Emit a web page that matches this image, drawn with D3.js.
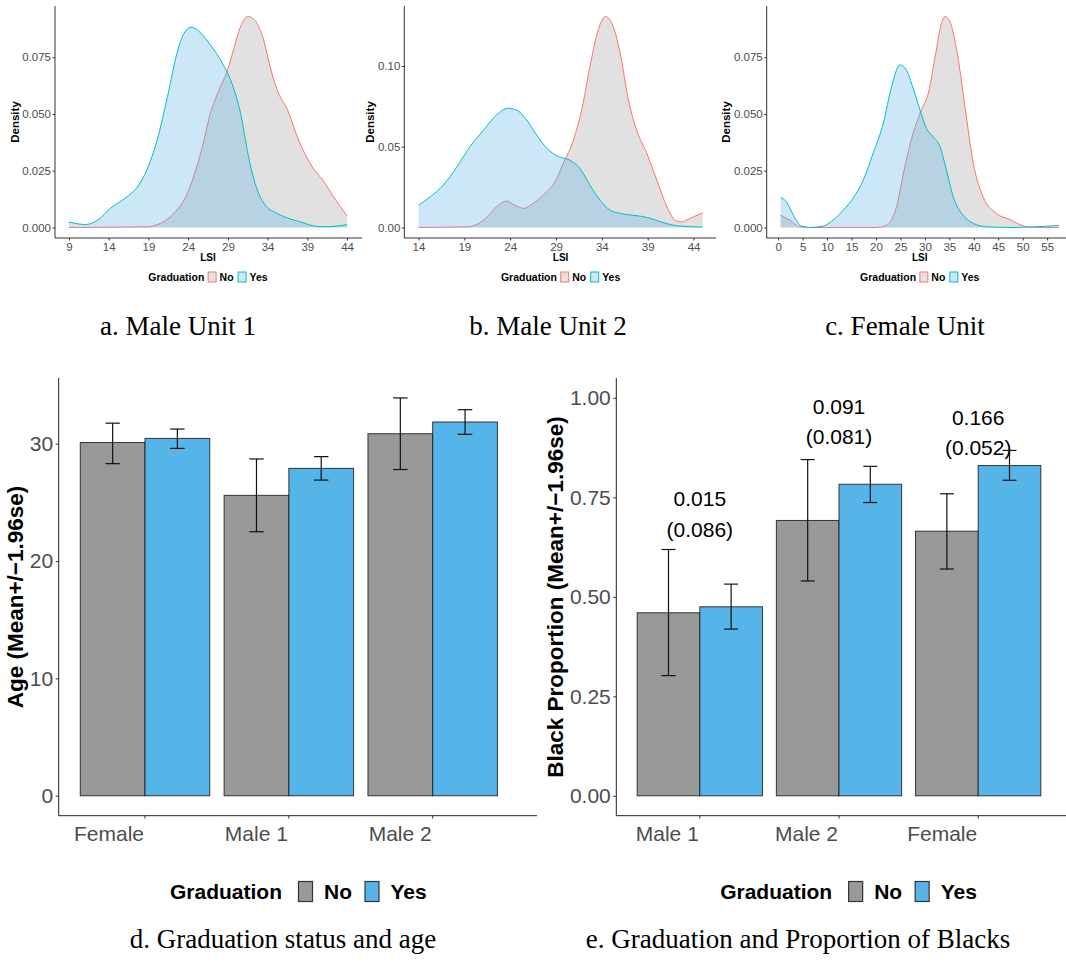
<!DOCTYPE html>
<html>
<head>
<meta charset="utf-8">
<script src="https://cdn.jsdelivr.net/npm/d3@7"></script>
<style>
  body { margin: 0; background: #fff; }
  text { font-family: "Liberation Sans", Arial, sans-serif; }
  .caption { font-family: "Liberation Serif", "Times New Roman", serif; font-size: 27px; fill: #000; }
</style>
</head>
<body>
<svg id="chart" width="1066" height="966"></svg>
<script>
// ---- density data: [LSI, density]
const unit1No = [[9,0],[18.8,0.0003],[20.5,0.0018],[22.2,0.0062],[23.7,0.0135],[24.7,0.0224],[25.8,0.0356],
  [26.8,0.0503],[27.9,0.0606],[28.9,0.0687],[29.7,0.0782],[30.6,0.0885],[31.5,0.0929],[32.4,0.0912],
  [33.5,0.0826],[34.3,0.0709],[35.2,0.0606],[36.5,0.0518],[37.9,0.0385],[39.6,0.0268],[41.1,0.0201],
  [42.3,0.0135],[44,0.0051]];
const unit1Yes = [[9,0.0024],[11.1,0.0013],[12.6,0.0032],[14.2,0.0084],[16.3,0.0135],[17.8,0.0187],
  [18.8,0.0253],[20.1,0.0385],[21.4,0.0576],[22.6,0.0768],[23.5,0.0856],[24.4,0.0882],[25.6,0.0856],
  [26.8,0.0804],[28.3,0.0724],[29.5,0.0635],[30.6,0.0503],[31.6,0.0312],[32.7,0.0165],[33.7,0.0099],
  [35.2,0.0062],[36.9,0.0037],[38.1,0.0025],[39.8,0.0007],[41.3,0.0003],[44,0.0012]];

const unit2No = [[14,0],[19.3,0.0004],[20.4,0.002],[21.5,0.0066],[22.5,0.0128],[23.6,0.0163],[24.5,0.0138],
  [25.5,0.0118],[26.5,0.0149],[27.8,0.0211],[28.9,0.0283],[29.8,0.0397],[30.9,0.0541],[31.8,0.0727],
  [32.7,0.0996],[33.6,0.1223],[34.4,0.1306],[35.1,0.1264],[36,0.1079],[36.9,0.0789],[37.8,0.0603],
  [38.9,0.0459],[40,0.0293],[41.1,0.0128],[42,0.0045],[42.7,0.0035],[43.6,0.0056],[45,0.0091]];
const unit2Yes = [[14,0.0138],[15.3,0.019],[16.7,0.0262],[18.2,0.0376],[19.6,0.05],[21.1,0.0603],
  [22.5,0.0696],[23.8,0.0738],[24.7,0.0727],[25.8,0.0665],[26.9,0.0572],[28,0.049],[29.3,0.0438],
  [30.5,0.0417],[31.6,0.0366],[32.7,0.0262],[33.8,0.0169],[34.9,0.0107],[36.4,0.0083],[38.2,0.007],
  [39.3,0.0056],[40.4,0.0035],[41.8,0.0014],[44,0.0004],[45,0.0002]];

const femaleNo = [[0.5,0.0054],[2.4,0.0032],[4.4,0.0003],[6.5,0],[20,0],[22.2,0.001],[24.2,0.0091],
  [25.9,0.0268],[27.6,0.0415],[29.3,0.0518],[30.7,0.0591],[32.1,0.0753],[33.4,0.09],[34.1,0.0929],
  [35.1,0.0907],[36.5,0.0782],[38.2,0.0532],[39.9,0.0282],[41.9,0.0135],[44.6,0.0062],[47.4,0.0035],
  [50.1,0.0007],[52,0],[57.4,0]];
const femaleYes = [[0.5,0.0131],[1.7,0.0113],[3.1,0.0054],[4.8,0.0006],[6.5,0],[9.2,0.0006],[11.2,0.0032],
  [13.3,0.0076],[15.3,0.0128],[17.4,0.0209],[19.4,0.0326],[21.5,0.0459],[23.2,0.0621],[24.9,0.0716],
  [26.2,0.0694],[27.6,0.0613],[29,0.0518],[30.3,0.0437],[31.7,0.04],[33.1,0.0356],[34.4,0.0253],
  [35.8,0.0135],[37.8,0.0054],[39.9,0.0018],[42.6,0.0003],[47.4,0],[57.4,0.0009]];

const lsiTicksUnit1 = [9, 14, 19, 24, 29, 34, 39, 44];
const lsiTicksUnit2 = [14, 19, 24, 29, 34, 39, 44];
const lsiTicksFemale = [0, 5, 10, 15, 20, 25, 30, 35, 40, 45, 50, 55];
const densityTicksA = [0, 0.025, 0.05, 0.075];
const densityTicksB = [0, 0.05, 0.10];

// ---- bar data
const ageGroups = ["Female", "Male 1", "Male 2"];
const ageMeanNo = [30.1, 25.6, 30.85];
const ageLowNo = [28.3, 22.5, 27.8];
const ageHighNo = [31.75, 28.7, 33.9];
const ageMeanYes = [30.45, 27.9, 31.85];
const ageLowYes = [29.6, 26.9, 30.8];
const ageHighYes = [31.25, 28.9, 32.9];
const ageTicks = [0, 10, 20, 30];

const blackGroups = ["Male 1", "Male 2", "Female"];
const blackMeanNo = [0.46, 0.692, 0.665];
const blackLowNo = [0.302, 0.54, 0.57];
const blackHighNo = [0.619, 0.845, 0.759];
const blackMeanYes = [0.475, 0.783, 0.83];
const blackLowYes = [0.419, 0.737, 0.793];
const blackHighYes = [0.532, 0.828, 0.868];
const blackTicks = [0, 0.25, 0.5, 0.75, 1];
const diffLabels = ["0.015", "0.091", "0.166"];
const seLabels = ["(0.086)", "(0.081)", "(0.052)"];
const diffLabelY = [0.709, 0.942, 0.914];

const captions = ["a. Male Unit 1", "b. Male Unit 2", "c. Female Unit",
  "d. Graduation status and age", "e. Graduation and Proportion of Blacks"];

const svg = d3.select("#chart");
const tickGrey = "#4d4d4d";
const noLine = "#F8766D", yesLine = "#00BFC4";

function densityPanel(o) {
  const all = o.no.concat(o.yes);
  const ext = d3.extent(all, d => d[0]);
  const pad = (ext[1] - ext[0]) * 0.05;
  const yMax = d3.max(all, d => d[1]);
  const x = d3.scaleLinear().domain([ext[0] - pad, ext[1] + pad]).range([o.left, o.right]);
  const y = d3.scaleLinear().domain([-0.05 * yMax, 1.05 * yMax]).range([238, 6]);
  const g = svg.append("g");
  const clip = "clip-" + o.id;
  g.append("clipPath").attr("id", clip).append("rect")
    .attr("x", o.left).attr("y", 0).attr("width", o.axisEnd - o.left).attr("height", 240);

  const area = d3.area().curve(d3.curveMonotoneX).x(d => x(d[0])).y0(y(0)).y1(d => y(d[1]));
  const line = d3.line().curve(d3.curveMonotoneX).x(d => x(d[0])).y(d => y(d[1]));
  const plot = g.append("g").attr("clip-path", `url(#${clip})`);
  plot.append("path").datum(o.no).attr("d", area).attr("fill", "#bdbdbd").attr("fill-opacity", 0.45);
  plot.append("path").datum(o.no).attr("d", line).attr("fill", "none").attr("stroke", noLine).attr("stroke-width", 1);
  plot.append("path").datum(o.yes).attr("d", area).attr("fill", "#56B4E9").attr("fill-opacity", 0.3);
  plot.append("path").datum(o.yes).attr("d", line).attr("fill", "none").attr("stroke", yesLine).attr("stroke-width", 1);

  const yAxis = g.append("g").attr("transform", `translate(${o.left},0)`)
    .call(d3.axisLeft(y).tickValues(o.yTicks).tickFormat(d3.format(o.yFmt)).tickSize(2.5).tickPadding(1.5).tickSizeOuter(0));
  const xAxis = g.append("g").attr("transform", "translate(0,238)")
    .call(d3.axisBottom(x).tickValues(o.xTicks).tickSize(2.5).tickPadding(2).tickSizeOuter(0));
  [yAxis, xAxis].forEach(a => {
    a.select(".domain").remove();
    a.selectAll("line").attr("stroke", "#333");
    a.selectAll("text").attr("fill", tickGrey).style("font-size", "11.5px");
  });
  g.append("line").attr("x1", o.left).attr("x2", o.left).attr("y1", 6).attr("y2", 238).attr("stroke", "#333");
  g.append("line").attr("x1", o.left).attr("x2", o.axisEnd).attr("y1", 238).attr("y2", 238).attr("stroke", "#333");

  const lab = yAxis.node().getBBox().x + o.left;
  g.append("text").attr("transform", `translate(${lab - 7.5},122) rotate(-90)`)
    .attr("text-anchor", "middle").attr("dy", "0.35em")
    .style("font-size", "11.5px").style("font-weight", "bold").text("Density");
  const cx = (o.left + o.right) / 2;
  g.append("text").attr("x", cx).attr("y", 260.5).attr("text-anchor", "middle")
    .style("font-size", "10px").style("font-weight", "bold").text("LSI");

  legend(g, cx, 277, {font: 10.5, title: 3.3, boxW: 9, boxH: 10, after: 3, between: 4,
    keys: [{label: "No", fill: "#e1e1e1", stroke: noLine}, {label: "Yes", fill: "#cce8f8", stroke: yesLine}]});
}

function legend(g, cx, cy, o) {
  const lg = g.append("g");
  let px = 0;
  const t = lg.append("text").attr("x", 0).attr("y", cy).attr("dy", "0.36em")
    .style("font-size", o.font + "px").style("font-weight", "bold").text("Graduation");
  px += t.node().getComputedTextLength() + o.title;
  o.keys.forEach((k, i) => {
    lg.append("rect").attr("x", px + 0.5).attr("y", cy - o.boxH / 2).attr("width", o.boxW - 1).attr("height", o.boxH)
      .attr("fill", k.fill).attr("stroke", k.stroke).attr("stroke-width", o.boxStroke || 1);
    px += o.boxW + o.after;
    const kt = lg.append("text").attr("x", px).attr("y", cy).attr("dy", "0.36em")
      .style("font-size", o.font + "px").style("font-weight", "bold").text(k.label);
    px += kt.node().getComputedTextLength();
    if (i < o.keys.length - 1) px += o.between;
  });
  lg.attr("transform", `translate(${cx - px / 2},0)`);
}

function barPanel(o) {
  const g = svg.append("g");
  const x0 = d3.scaleBand().domain(o.groups).range([o.left, o.right]).paddingInner(0.1).paddingOuter(0.15);
  const x1 = d3.scaleBand().domain(["No", "Yes"]).range([0, x0.bandwidth()]);
  const y = d3.scaleLinear().domain(o.yDomain).range([815.7, 378]);
  const rows = [];
  o.groups.forEach((grp, i) => {
    rows.push({grp, key: "No", mean: o.meanNo[i], lo: o.lowNo[i], hi: o.highNo[i]});
    rows.push({grp, key: "Yes", mean: o.meanYes[i], lo: o.lowYes[i], hi: o.highYes[i]});
  });
  const fill = {No: "#999999", Yes: "#56B4E9"};
  g.selectAll(".bar").data(rows).enter().append("rect").attr("class", "bar")
    .attr("x", d => x0(d.grp) + x1(d.key)).attr("width", x1.bandwidth())
    .attr("y", d => y(d.mean)).attr("height", d => y(0) - y(d.mean))
    .attr("fill", d => fill[d.key]).attr("stroke", "#1a1a1a").attr("stroke-opacity", 0.85).attr("stroke-width", 1);
  const cap = x0.step() * 0.1;
  const eb = g.selectAll(".err").data(rows).enter().append("g").attr("class", "err")
    .attr("transform", d => `translate(${x0(d.grp) + x1(d.key) + x1.bandwidth() / 2},0)`)
    .attr("stroke", "#111").attr("stroke-width", 1.2);
  eb.append("line").attr("y1", d => y(d.lo)).attr("y2", d => y(d.hi));
  eb.append("line").attr("x1", -cap / 2).attr("x2", cap / 2).attr("y1", d => y(d.hi)).attr("y2", d => y(d.hi));
  eb.append("line").attr("x1", -cap / 2).attr("x2", cap / 2).attr("y1", d => y(d.lo)).attr("y2", d => y(d.lo));

  if (o.labels) {
    const lt = g.selectAll(".diff").data(o.groups).enter().append("g").attr("class", "diff")
      .attr("transform", (d, i) => `translate(${x0(d) + x0.bandwidth() / 2},${y(o.labelY[i])})`);
    lt.append("text").attr("text-anchor", "middle").attr("y", -15).attr("dy", "0.36em")
      .style("font-size", "21px").text((d, i) => o.labels[i]);
    lt.append("text").attr("text-anchor", "middle").attr("y", 15.5).attr("dy", "0.36em")
      .style("font-size", "21px").text((d, i) => o.sub[i]);
  }

  const yAxis = g.append("g").attr("transform", `translate(${o.left},0)`)
    .call(d3.axisLeft(y).tickValues(o.yTicks).tickFormat(d3.format(o.yFmt)).tickSize(3).tickPadding(2.5).tickSizeOuter(0));
  const xAxis = g.append("g").attr("transform", "translate(0,815.7)")
    .call(d3.axisBottom(x0).tickSize(3).tickPadding(7.5).tickSizeOuter(0));
  xAxis.selectAll("text").attr("text-anchor", "end").attr("x", -1);
  [yAxis, xAxis].forEach(a => {
    a.select(".domain").remove();
    a.selectAll("line").attr("stroke", "#333");
    a.selectAll("text").attr("fill", tickGrey).style("font-size", "21px");
  });
  g.append("line").attr("x1", o.left).attr("x2", o.left).attr("y1", 378).attr("y2", 815.7).attr("stroke", "#222");
  g.append("line").attr("x1", o.left).attr("x2", o.axisEnd).attr("y1", 815.7).attr("y2", 815.7).attr("stroke", "#222");

  const lab = yAxis.node().getBBox().x + o.left;
  g.append("text").attr("transform", `translate(${lab - 15},597) rotate(-90)`)
    .attr("text-anchor", "middle").attr("dy", "0.35em")
    .style("font-size", "22.5px").style("font-weight", "bold").text(o.title);

  legend(g, (o.left + o.right) / 2 + 9.5, 891.5, {font: 21, title: 16, boxW: 15, boxH: 20, after: 11, between: 12.5,
    boxStroke: 1.2,
    keys: [{label: "No", fill: "#999999", stroke: "#333"}, {label: "Yes", fill: "#56B4E9", stroke: "#333"}]});
}

densityPanel({id: "a", no: unit1No, yes: unit1Yes, left: 55, right: 361, axisEnd: 362,
  xTicks: lsiTicksUnit1, yTicks: densityTicksA, yFmt: ".3f"});
densityPanel({id: "b", no: unit2No, yes: unit2Yes, left: 404.3, right: 716.9, axisEnd: 716,
  xTicks: lsiTicksUnit2, yTicks: densityTicksB, yFmt: ".2f"});
densityPanel({id: "c", no: femaleNo, yes: femaleYes, left: 766.7, right: 1072.8, axisEnd: 1066,
  xTicks: lsiTicksFemale, yTicks: densityTicksA, yFmt: ".3f"});

barPanel({groups: ageGroups, meanNo: ageMeanNo, lowNo: ageLowNo, highNo: ageHighNo,
  meanYes: ageMeanYes, lowYes: ageLowYes, highYes: ageHighYes,
  left: 58.7, right: 519, axisEnd: 537, yDomain: [-1.7, 35.6], yTicks: ageTicks, yFmt: "d",
  title: "Age (Mean+/\u22121.96se)"});
barPanel({groups: blackGroups, meanNo: blackMeanNo, lowNo: blackLowNo, highNo: blackHighNo,
  meanYes: blackMeanYes, lowYes: blackLowYes, highYes: blackHighYes,
  left: 616.3, right: 1061.7, axisEnd: 1066, yDomain: [-0.05, 1.05], yTicks: blackTicks, yFmt: ".2f",
  title: "Black Proportion (Mean+/\u22121.96se)",
  labels: diffLabels, sub: seLabels, labelY: diffLabelY});

// captions
const capPos = [[178, 335], [548, 335], [905, 335], [283, 948], [798, 948]];
svg.selectAll(".caption").data(captions).enter().append("text").attr("class", "caption")
  .attr("x", (d, i) => capPos[i][0]).attr("y", (d, i) => capPos[i][1])
  .attr("text-anchor", "middle").text(d => d);
</script>
</body>
</html>
